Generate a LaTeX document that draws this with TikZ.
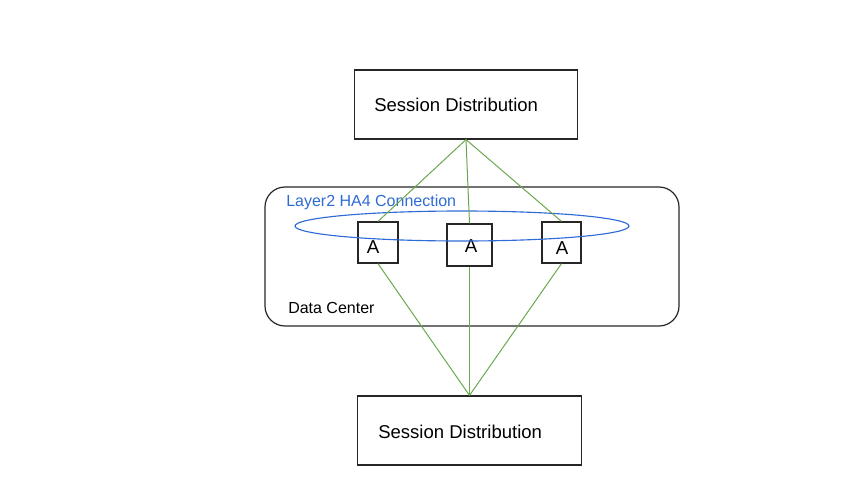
\documentclass[tikz,border=0pt]{standalone}
\usepackage{fontspec}
\setmainfont{Liberation Sans}
\usepackage{xcolor}

\begin{document}
\begin{tikzpicture}[x=0.75pt,y=-0.75pt,
  distbox/.style={draw=black!85,line width=0.9pt,minimum width=167.5pt,minimum height=51.75pt,inner sep=0pt},
  appbox/.style={draw=black!85,line width=0.9pt,inner sep=0pt},
  link/.style={draw=linkgreen,line width=0.75pt},
  boxtext/.style={inner sep=0pt,anchor=west,font=\fontsize{13.9}{16}\selectfont}]
\definecolor{linkgreen}{HTML}{6AA84F};
\definecolor{ha_blue}{HTML}{2F6BD6};
\def\dc_rounding{15pt};

\useasboundingbox (0,0) rectangle (866,500);

% Session distribution boxes
\node[distbox] (top) at (466,104.5) {};
\node[boxtext] (toptext) at (374,105) {Session Distribution};
\node[distbox] (bottom) at (469.5,430.5) {};
\node[boxtext] (bottomtext) at (378,432) {Session Distribution};

% Data center
\draw[black!85,line width=0.9pt,rounded corners=\dc_rounding] (265,187) rectangle (679,326);
\node[inner sep=0pt,anchor=west,font=\fontsize{12}{14}\selectfont] (dclabel) at (288,308) {Data Center};

% Appliances
\node[appbox,minimum width=30pt,minimum height=30.75pt] (a1) at (378,242.5) {};
\node[appbox,minimum width=33.75pt,minimum height=31.5pt] (a2) at (469.5,245) {};
\node[appbox,minimum width=29.25pt,minimum height=30.75pt] (a3) at (561.5,242.5) {};
\node[inner sep=0pt,font=\fontsize{14}{16}\selectfont] (a1text) at (373,247) {A};
\node[inner sep=0pt,font=\fontsize{14}{16}\selectfont] (a2text) at (471,246) {A};
\node[inner sep=0pt,font=\fontsize{14}{16}\selectfont] (a3text) at (562,248) {A};

% Layer2 connection
\draw[ha_blue,line width=0.85pt] (462,226) ellipse [x radius=167,y radius=15];
\node[inner sep=0pt,anchor=west,text=ha_blue,font=\fontsize{12}{14}\selectfont] (halabel) at (286,202) {Layer2 HA4 Connection};

% Links
\foreach \a in {a1,a2,a3}{
\draw[link] (top.south) -- (\a.north);
\draw[link] (\a.south) -- (bottom.north);
}
\end{tikzpicture}
\end{document}
